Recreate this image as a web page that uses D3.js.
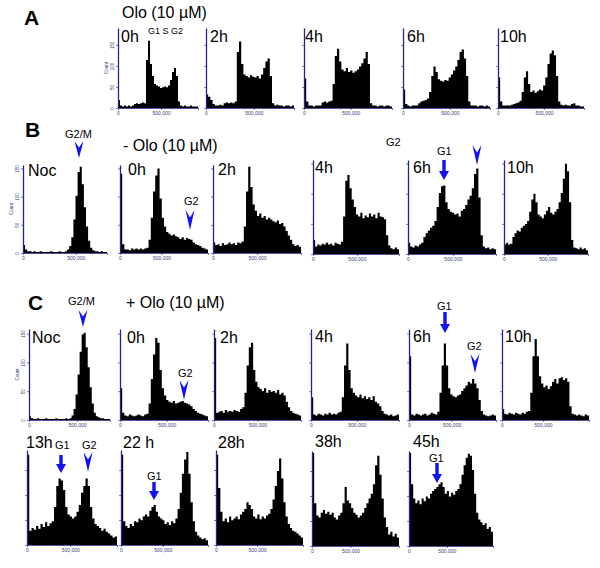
<!DOCTYPE html>
<html><head><meta charset="utf-8">
<script src="https://cdn.jsdelivr.net/npm/d3@7"></script>
<style>body{margin:0;background:#fff}svg{display:block}</style>
</head><body>
<script>
// ---------- DATA (histogram heights, % of full scale, 40 bins each) ----------
const a0h  = [10,3,2,3,2,3,2,3,5,6,5,6,7,6,60,84,55,40,30,28,27,25,26,27,26,28,35,45,50,40,8,3,2,3,2,2,3,2,2,2];
const a2h  = [17,14,10,5,3,3,4,3,6,7,6,7,6,8,70,83,55,42,40,38,41,39,38,40,37,42,50,58,62,40,6,3,4,3,3,2,3,3,2,3];
const a4h  = [37,8,3,3,2,3,3,3,7,8,7,8,9,30,65,74,58,48,46,50,45,47,44,46,48,52,56,62,70,55,6,3,3,2,3,3,2,3,3,2];
const a6h  = [23,5,3,2,3,3,3,6,8,9,10,12,20,40,52,45,36,34,33,35,34,38,42,47,52,60,70,73,62,40,8,3,3,3,2,3,3,2,3,2];
const a10h = [38,8,3,3,3,3,4,5,6,7,9,20,38,46,30,20,22,19,21,23,22,28,38,55,68,72,66,40,8,4,3,4,3,3,5,6,3,3,2,2];

const bNoc = [9,4,2,2,1,2,1,1,2,1,1,1,1,2,1,1,1,2,1,1,2,4,8,18,38,65,92,98,78,52,30,14,6,3,2,2,1,2,1,1];
const b0h  = [90,10,4,4,3,5,4,5,4,5,4,5,6,15,40,70,88,96,62,40,30,24,22,20,21,19,18,16,18,15,17,16,15,12,10,9,8,6,5,4];
const b2h  = [12,9,10,8,11,9,10,12,10,11,9,12,11,13,30,70,98,75,55,48,42,45,40,42,38,40,38,36,35,37,33,34,30,25,20,15,10,8,9,7];
const b4h  = [15,8,10,9,11,10,12,10,11,9,12,11,10,13,40,78,84,70,58,50,42,40,44,38,41,39,43,40,42,38,44,40,39,37,20,9,6,5,7,5];
const b6h  = [12,8,7,9,8,10,12,18,22,25,28,30,35,50,65,72,73,55,48,45,44,42,43,40,46,48,52,58,62,70,85,91,60,20,8,6,7,5,6,5];
const b10h = [10,12,10,11,18,22,25,24,28,30,32,35,45,58,64,55,42,40,38,42,46,50,44,42,45,48,55,65,80,96,88,55,15,7,6,5,7,5,6,4];

const cNoc = [4,2,1,1,2,1,1,1,2,1,1,1,1,2,1,1,1,1,2,1,2,5,12,28,50,75,94,96,80,58,36,18,8,4,3,2,2,1,1,1];
const c0h  = [35,8,5,4,6,5,4,5,6,5,4,6,7,18,45,72,90,85,55,35,27,22,20,19,21,18,19,20,21,19,18,17,15,12,10,8,7,6,5,4];
const c2h  = [90,8,9,10,8,11,9,10,9,11,10,9,12,14,30,60,80,85,55,42,36,34,32,35,30,33,31,32,30,33,28,30,27,20,14,10,8,7,6,5];
const c4h  = [25,6,5,7,6,5,7,6,8,6,7,6,8,9,25,60,84,55,35,30,27,25,28,24,26,23,25,22,26,20,18,15,10,7,6,5,6,4,5,6];
const c6h  = [70,6,5,7,6,5,6,7,5,6,8,7,6,9,30,60,84,60,35,28,26,25,27,28,32,35,38,42,40,45,40,35,22,10,6,5,4,5,6,5];
const c10h = [12,7,6,8,7,6,8,7,6,8,7,9,10,30,70,89,70,48,40,36,38,34,37,42,45,40,46,47,44,46,42,15,7,6,5,6,5,4,6,5];
const c13h = [95,15,18,16,20,17,22,19,24,20,23,25,40,62,70,68,58,40,32,30,28,30,35,42,55,62,70,62,40,28,22,20,18,15,17,14,12,10,8,9];
const c22h = [95,25,20,18,22,20,25,24,28,26,30,32,30,36,40,42,35,30,28,26,22,24,21,25,23,28,38,55,75,90,98,75,45,25,14,10,8,6,7,5];
const c28h = [95,60,35,25,28,24,30,26,28,30,27,32,35,38,45,42,38,30,28,32,27,30,28,31,33,38,48,62,78,91,70,45,30,22,18,15,14,12,10,8];
const c38h = [98,45,32,30,35,38,34,36,33,35,30,28,32,35,45,62,48,45,40,35,33,30,32,35,40,45,50,55,65,85,95,75,50,30,20,12,15,10,13,9];
const c45h = [98,65,50,45,48,44,50,47,52,50,55,58,60,62,65,67,62,55,58,52,56,54,58,60,65,75,85,93,97,95,80,55,35,28,25,22,24,18,20,15];

const xTickValues = [0, 500000];
const xTickLabels = ["0", "500,000"];
const yTickCounts = [0, 50, 100, 150];
const yAxisTitle = "Count";

// ---------- LAYOUT ----------
const W = 600, H = 568;
const FONT = "'Liberation Sans', Arial, Helvetica, sans-serif";
const AXIS = "#24248c";
const BLUE = "#1212ee";

const panels = [
  {data:a0h,  label:"0h",  x0:118,x1:198,top:28,bottom:108,xMax:930000,lx:121,ly:42, yl:true, yMax:190},
  {data:a2h,  label:"2h",  x0:206,x1:294,top:28,bottom:108,xMax:920000,lx:210,ly:42, yMax:190},
  {data:a4h,  label:"4h",  x0:304,x1:392,top:28,bottom:108,xMax:940000,lx:305,ly:42, yMax:190},
  {data:a6h,  label:"6h",  x0:403,x1:490,top:28,bottom:108,xMax:925000,lx:407,ly:42, yMax:190},
  {data:a10h, label:"10h", x0:498,x1:584,top:28,bottom:108,xMax:935000,lx:500,ly:42, yMax:190},

  {data:bNoc, label:"Noc", x0:23, x1:107,top:165,bottom:253,xMax:795000,lx:28, ly:176, yl:true, yMax:156},
  {data:b0h,  label:"0h",  x0:120,x1:208,top:165,bottom:253,xMax:1060000,lx:128,ly:175, yMax:156},
  {data:b2h,  label:"2h",  x0:213,x1:301,top:165,bottom:253,xMax:1000000,lx:218,ly:175, yMax:156},
  {data:b4h,  label:"4h",  x0:313,x1:399,top:160,bottom:254,xMax:980000,lx:315,ly:173, yMax:156},
  {data:b6h,  label:"6h",  x0:408,x1:496,top:160,bottom:254,xMax:980000,lx:413,ly:173, yMax:156},
  {data:b10h, label:"10h", x0:504,x1:588,top:160,bottom:254,xMax:960000,lx:507,ly:173, yMax:156},

  {data:cNoc, label:"Noc", x0:29, x1:110,top:329,bottom:420,xMax:845000,lx:32, ly:343, yl:true, yMax:158},
  {data:c0h,  label:"0h",  x0:120,x1:208,top:329,bottom:420,xMax:940000,lx:127,ly:343, yMax:158},
  {data:c2h,  label:"2h",  x0:214,x1:301,top:329,bottom:420,xMax:1000000,lx:220,ly:343, yMax:158},
  {data:c4h,  label:"4h",  x0:311,x1:399,top:329,bottom:420,xMax:960000,lx:315,ly:342, yMax:158},
  {data:c6h,  label:"6h",  x0:409,x1:496,top:329,bottom:420,xMax:1020000,lx:413,ly:342, yMax:158},
  {data:c10h, label:"10h", x0:502,x1:589,top:329,bottom:420,xMax:1060000,lx:505,ly:342, yMax:158},

  {data:c13h, label:"13h", x0:27, x1:117,top:450,bottom:545,xMax:1040000,lx:26, ly:448, yMax:190},
  {data:c22h, label:"22 h",x0:121,x1:208,top:450,bottom:545,xMax:1040000,lx:123,ly:448, yMax:190},
  {data:c28h, label:"28h", x0:216,x1:303,top:450,bottom:545,xMax:1060000,lx:218,ly:448, yMax:190},
  {data:c38h, label:"38h", x0:312,x1:399,top:451,bottom:546,xMax:1130000,lx:315,ly:447, yMax:190},
  {data:c45h, label:"45h", x0:409,x1:493,top:451,bottom:546,xMax:1110000,lx:413,ly:447, yMax:190}
];

const texts = [
  {t:"A", x:24, y:25, s:21, b:true},
  {t:"Olo (10 \u00B5M)", x:122, y:18, s:16},
  {t:"G1 S G2", x:148, y:34, s:9},
  {t:"B", x:25, y:137, s:21, b:true},
  {t:"G2/M", x:65, y:138, s:11},
  {t:"- Olo (10 \u00B5M)", x:123, y:151, s:16},
  {t:"G2", x:184, y:205, s:11},
  {t:"G2", x:386, y:146, s:11},
  {t:"G1", x:437, y:155, s:11},
  {t:"C", x:28, y:310, s:21, b:true},
  {t:"G2/M", x:68, y:305, s:11},
  {t:"+ Olo (10 \u00B5M)", x:126, y:308, s:16},
  {t:"G2", x:178, y:377, s:11},
  {t:"G1", x:437, y:310, s:11},
  {t:"G2", x:467, y:350, s:11},
  {t:"G1", x:55, y:449, s:11},
  {t:"G2", x:82, y:449, s:11},
  {t:"G1", x:147, y:480, s:11},
  {t:"G1", x:429, y:462, s:11}
];

// chevrons (arrowheads) and down arrows: cx, top, bottom
const chevrons = [[79,141,158],[190,210,230],[477,145,165],[83,310,327],[184,380,400],[475,354,373],[88,452,472]];
const arrows = [[444,160,180],[445,312,333],[61,455,473],[154,482,500],[437,463,483]];

// ---------- DRAW ----------
const svg = d3.select("body").append("svg").attr("width", W).attr("height", H)
  .style("font-family", FONT);
svg.append("rect").attr("width", W).attr("height", H).attr("fill", "#fff");

panels.forEach(p => {
  const g = svg.append("g");
  const x = d3.scaleLinear([0, p.xMax], [p.x0, p.x1]);
  const y = d3.scaleLinear([0, 100], [p.bottom, p.top]);
  const n = p.data.length, bw = p.xMax / n;
  const pts = p.data.map((v, i) => ({x: i * bw, v}));
  pts.push({x: p.xMax, v: p.data[n - 1]});
  const area = d3.area().x(d => x(d.x)).y0(y(0)).y1(d => y(d.v)).curve(d3.curveStepAfter);
  g.append("path").datum(pts).attr("d", area).attr("fill", "#000");

  // bottom axis
  const xa = d3.axisBottom(x).tickValues(xTickValues.concat([p.xMax]))
    .tickFormat((d, i) => xTickLabels[i] || "").tickSize(2).tickSizeOuter(0).tickPadding(1);
  const gx = g.append("g").attr("transform", `translate(0,${p.bottom})`).call(xa);
  gx.select(".domain").attr("stroke", AXIS).attr("stroke-width", 0.8);
  gx.selectAll(".tick line").attr("stroke", AXIS).attr("stroke-width", 0.6);
  gx.selectAll("text").attr("font-size", 5).attr("fill", "#3a3a78").attr("font-family", FONT);

  // left axis
  const ya = d3.axisLeft(y).tickValues(yTickCounts.map(c => c / p.yMax * 100))
    .tickFormat((d, i) => p.yl ? String(yTickCounts[i]) : "").tickSize(2).tickSizeOuter(0);
  const gy = g.append("g").attr("transform", `translate(${p.x0},0)`).call(ya);
  gy.select(".domain").attr("stroke", AXIS).attr("stroke-width", 1.3);
  gy.selectAll(".tick line").attr("stroke", AXIS).attr("stroke-width", 0.6);
  gy.selectAll("text").attr("font-size", 4.5).attr("fill", "#3a3a78").attr("font-family", FONT)
    .attr("transform", "rotate(-90)").attr("x", 0).attr("y", -4).attr("dy", 0)
    .attr("text-anchor", "middle");
  if (p.yl) {
    g.append("text").attr("transform", `translate(${p.x0 - 10},${(p.top + p.bottom) / 2}) rotate(-90)`)
      .attr("text-anchor", "middle").attr("font-size", 4.5).attr("fill", "#3a3a78").text(yAxisTitle);
  }
  // panel label
  svg.append("text").attr("x", p.lx).attr("y", p.ly).attr("font-size", 16).attr("fill", "#000").text(p.label);
});

texts.forEach(d => {
  svg.append("text").attr("x", d.x).attr("y", d.y).attr("font-size", d.s)
    .attr("font-weight", d.b ? "bold" : "normal").attr("fill", "#000").text(d.t);
});

chevrons.forEach(([cx, t, b]) => {
  const h = b - t;
  svg.append("path").attr("d", `M${cx - 4.5},${t} L${cx},${t + h * 0.38} L${cx + 4.5},${t} L${cx},${b} Z`)
    .attr("fill", BLUE);
});
arrows.forEach(([cx, t, b]) => {
  const hh = 9;
  svg.append("path").attr("d",
    `M${cx - 1.7},${t} L${cx + 1.7},${t} L${cx + 1.7},${b - hh} L${cx + 5},${b - hh} L${cx},${b} L${cx - 5},${b - hh} L${cx - 1.7},${b - hh} Z`)
    .attr("fill", BLUE);
});
</script>
</body></html>
